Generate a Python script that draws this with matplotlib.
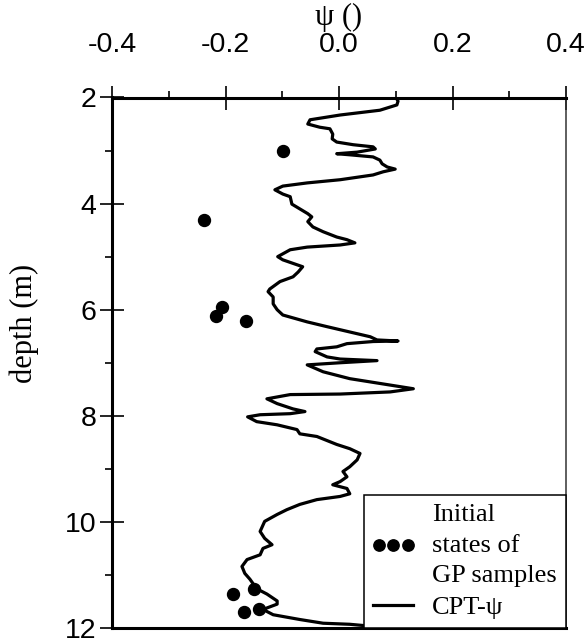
import matplotlib
matplotlib.use('Agg')
import matplotlib.pyplot as plt
from matplotlib.ticker import MultipleLocator, FixedLocator
from matplotlib.font_manager import FontProperties
from matplotlib.legend_handler import HandlerLine2D

# CPT-derived state parameter profile
psi_cpt = [0.101, 0.104, 0.102, 0.072, 0.002, -0.051, -0.055, -0.034, -0.016, -0.011,
           -0.012, -0.004, 0.025, 0.060, 0.064, 0.032, -0.004, 0.019, 0.060, 0.072,
           0.076, 0.085, 0.099, 0.078, 0.060, 0.002, -0.056, -0.099, -0.113, -0.099,
           -0.086, -0.083, -0.069, -0.055, -0.048, -0.055, -0.046, -0.028, -0.004, 0.014,
           0.028, 0.002, -0.056, -0.086, -0.108, -0.099, -0.064, -0.072, -0.081, -0.104,
           -0.122, -0.125, -0.116, -0.116, -0.109, -0.099, -0.056, -0.021, 0.019, 0.055,
           0.067, 0.104, 0.060, 0.014, -0.004, -0.039, -0.042, -0.021, 0.002, 0.067,
           0.002, -0.056, -0.028, 0.019, 0.078, 0.131, 0.090, 0.002, -0.086, -0.127,
           -0.109, -0.081, -0.060, -0.086, -0.139, -0.161, -0.145, -0.109, -0.074, -0.069,
           -0.039, -0.016, -0.004, 0.019, 0.037, 0.032, 0.019, 0.007, 0.014, 0.002,
           -0.011, 0.014, 0.019, 0.002, -0.039, -0.069, -0.092, -0.109, -0.131, -0.139,
           -0.131, -0.118, -0.134, -0.139, -0.162, -0.171, -0.166, -0.157, -0.145, -0.127,
           -0.109, -0.109, -0.134, -0.116, -0.069, -0.028, 0.019, 0.060, 0.081]
depth_cpt = [2.01, 2.07, 2.14, 2.24, 2.33, 2.42, 2.50, 2.56, 2.59, 2.69,
             2.78, 2.84, 2.89, 2.93, 2.97, 3.03, 3.06, 3.08, 3.12, 3.18,
             3.25, 3.31, 3.35, 3.40, 3.46, 3.55, 3.61, 3.67, 3.74, 3.82,
             3.87, 4.01, 4.10, 4.19, 4.25, 4.34, 4.44, 4.53, 4.63, 4.68,
             4.74, 4.78, 4.82, 4.87, 5.00, 5.06, 5.19, 5.29, 5.38, 5.47,
             5.61, 5.66, 5.76, 5.89, 6.00, 6.10, 6.23, 6.32, 6.42, 6.51,
             6.57, 6.59, 6.60, 6.64, 6.70, 6.74, 6.79, 6.89, 6.93, 6.96,
             7.00, 7.04, 7.17, 7.30, 7.40, 7.49, 7.55, 7.59, 7.60, 7.68,
             7.77, 7.87, 7.92, 7.96, 7.98, 8.02, 8.11, 8.17, 8.26, 8.34,
             8.39, 8.49, 8.54, 8.62, 8.71, 8.83, 8.96, 9.05, 9.15, 9.24,
             9.30, 9.37, 9.47, 9.52, 9.58, 9.67, 9.77, 9.86, 9.99, 10.18,
             10.31, 10.43, 10.50, 10.62, 10.71, 10.84, 10.97, 11.08, 11.26, 11.36,
             11.49, 11.55, 11.65, 11.75, 11.84, 11.91, 11.93, 11.97, 11.99]

# Initial states of GP samples
psi_gp = [-0.099, -0.238, -0.206, -0.217, -0.164, -0.150, -0.187, -0.141, -0.168]
depth_gp = [3.01, 4.31, 5.95, 6.11, 6.21, 11.26, 11.35, 11.65, 11.69]

x_ticks = [-0.4, -0.2, 0.0, 0.2, 0.4]
x_ticklabels = ['-0.4', '-0.2', '0.0', '0.2', '0.4']
y_ticks = [2, 4, 6, 8, 10, 12]
y_ticklabels = ['2', '4', '6', '8', '10', '12']

plt.rcParams['font.family'] = ['Liberation Sans', 'DejaVu Sans']
serif = FontProperties(family=['Liberation Serif', 'DejaVu Serif'], size=22)
serif_leg = FontProperties(family=['Liberation Serif', 'DejaVu Serif'], size=19)

fig = plt.figure(figsize=(5.87, 6.41), dpi=100)
W, H = 587, 641
ax = fig.add_axes([112 / W, 1 - 628 / H, (566 - 112) / W, (628 - 97.5) / H])

pts, = ax.plot(psi_gp, depth_gp, linestyle='none', marker='o', ms=8.6,
               color='black', label='Initial\nstates of\nGP samples', zorder=3)
line, = ax.plot(psi_cpt, depth_cpt, color='black', lw=2.3, label='CPT-ψ',
                zorder=2, solid_joinstyle='round')

ax.set_xlim(-0.4, 0.4)
ax.set_ylim(12, 2)
ax.xaxis.tick_top()
ax.xaxis.set_label_position('top')
ax.xaxis.set_major_locator(FixedLocator(x_ticks))
ax.set_xticklabels(x_ticklabels)
ax.yaxis.set_major_locator(FixedLocator(y_ticks))
ax.set_yticklabels(y_ticklabels)
ax.xaxis.set_minor_locator(MultipleLocator(0.1))
ax.yaxis.set_minor_locator(MultipleLocator(1))

ax.tick_params(axis='both', which='major', direction='inout', length=17,
               width=1.2, labelsize=20.5, color='black')
ax.tick_params(axis='x', which='major', pad=20)
ax.tick_params(axis='y', which='major', pad=2.5)
ax.tick_params(axis='both', which='minor', direction='out', length=5, width=1.2)
ax.tick_params(axis='x', which='both', top=True, bottom=False)
ax.tick_params(axis='y', which='both', left=True, right=False)

for s in ['left', 'top', 'bottom']:
    ax.spines[s].set_linewidth(2.2)
ax.spines['right'].set_linewidth(1.1)
ax.spines['right'].set_color('#333333')

ax.set_xlabel('ψ ()', fontproperties=serif, labelpad=5)
ax.set_ylabel('depth (m)', fontproperties=serif)
ax.yaxis.set_label_coords(-0.16, 0.575)

leg = ax.legend(handles=[pts, line], loc='lower right', bbox_to_anchor=(1, 0),
                borderaxespad=0, prop=serif_leg,
                handler_map={pts: HandlerLine2D(numpoints=3, marker_pad=0.2)},
                markerscale=0.95,
                frameon=True, fancybox=False, edgecolor='black', framealpha=1,
                handlelength=1.5, handletextpad=0.72, labelspacing=0.3,
                borderpad=0.35)
leg.get_frame().set_linewidth(1.1)
for t in leg.get_texts():
    t.set_linespacing(1.5)

fig.savefig('out.png', dpi=100)
